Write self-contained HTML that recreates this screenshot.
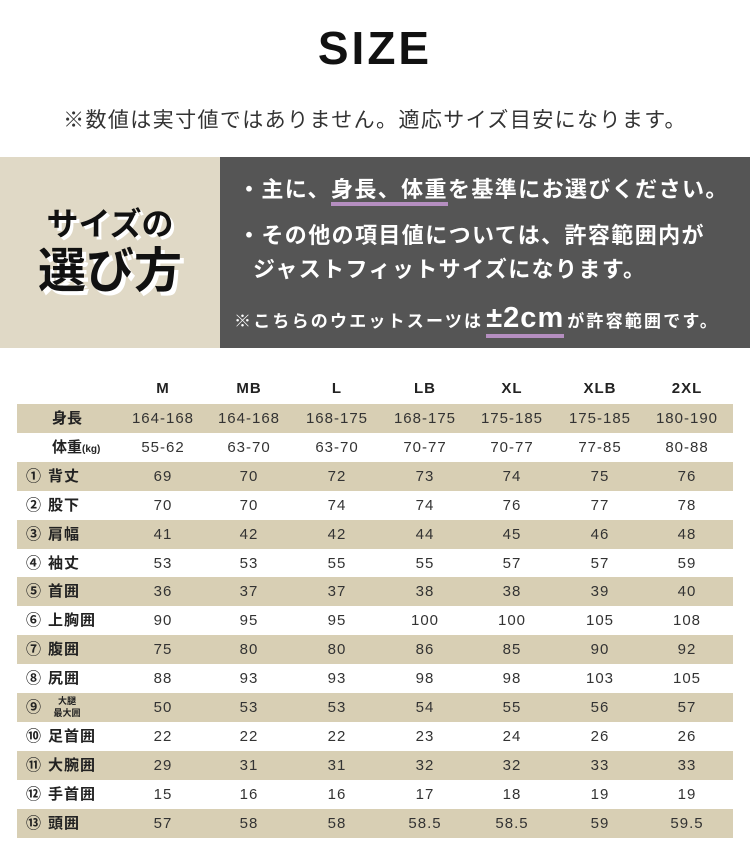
<!DOCTYPE html>
<html><head><meta charset="utf-8"><style>
body{margin:0;width:750px;height:868px;background:#fff;position:relative;overflow:hidden;font-family:"Liberation Sans","Noto Sans CJK JP",sans-serif;}
.a{position:absolute;white-space:nowrap;}
.row{position:absolute;left:17px;width:716px;height:29px;}
.sh{background:#d8cfb4;}
.c{position:absolute;width:90px;margin-left:-45px;text-align:center;font-size:15px;color:#333;letter-spacing:1px;line-height:29px;top:0;}
.lab{position:absolute;left:0;top:0;line-height:29px;font-size:15px;font-weight:bold;color:#222;}
.u{border-bottom:4px solid #b58ec0;padding-bottom:0px;}
</style></head><body>
<div class="a" style="left:0;width:750px;top:22px;text-align:center;font-size:46px;font-weight:bold;letter-spacing:3px;color:#111;line-height:52px;">SIZE</div>
<div class="a" style="left:0;width:750px;top:107px;text-align:center;font-size:21px;letter-spacing:1.4px;color:#333;line-height:28px;">※数値は実寸値ではありません。適応サイズ目安になります。</div>
<div class="a" style="left:0;top:157px;width:220px;height:191px;background:#e0d9c6;"></div>
<div class="a" style="left:220px;top:157px;width:530px;height:191px;background:#555;"></div>
<div class="a" style="left:0;width:220px;top:204px;text-align:center;font-size:32px;font-weight:bold;color:#111;text-shadow:3px 3px 0 #fff;line-height:40px;">サイズの</div>
<div class="a" style="left:0;width:220px;top:244px;text-align:center;font-size:48px;font-weight:bold;color:#111;text-shadow:4px 4px 0 #fff;line-height:56px;">選び方</div>
<div class="a" style="left:238px;top:175px;font-size:22px;letter-spacing:1.4px;font-weight:bold;color:#fff;line-height:30px;">・主に、<span class="u">身長、体重</span>を基準にお選びください。</div>
<div class="a" style="left:238px;top:221px;font-size:22px;letter-spacing:1.4px;font-weight:bold;color:#fff;line-height:30px;">・その他の項目値については、許容範囲内が</div>
<div class="a" style="left:238px;top:255px;font-size:22px;letter-spacing:1.4px;font-weight:bold;color:#fff;line-height:30px;">&nbsp;&nbsp;ジャストフィットサイズになります。</div>
<div class="a" style="left:234px;top:303px;font-size:17px;letter-spacing:2.2px;font-weight:bold;color:#fff;line-height:30px;">※こちらのウエットスーツは<span class="u" style="font-size:29px;margin:0 3px;letter-spacing:1px">±2cm</span>が許容範囲です。</div>
<div id="t"></div>
<script>
var cols=[163,249,337,425,512,600,687];
var hdr=["M","MB","L","LB","XL","XLB","2XL"];
var rows=[
["身長","","164-168","164-168","168-175","168-175","175-185","175-185","180-190"],
["体重","","55-62","63-70","63-70","70-77","70-77","77-85","80-88"],
["背丈","①",69,70,72,73,74,75,76],
["股下","②",70,70,74,74,76,77,78],
["肩幅","③",41,42,42,44,45,46,48],
["袖丈","④",53,53,55,55,57,57,59],
["首囲","⑤",36,37,37,38,38,39,40],
["上胸囲","⑥",90,95,95,100,100,105,108],
["腹囲","⑦",75,80,80,86,85,90,92],
["尻囲","⑧",88,93,93,98,98,103,105],
["大腿","⑨",50,53,53,54,55,56,57],
["足首囲","⑩",22,22,22,23,24,26,26],
["大腕囲","⑪",29,31,31,32,32,33,33],
["手首囲","⑫",15,16,16,17,18,19,19],
["頭囲","⑬",57,58,58,58.5,58.5,59,59.5]];
var h='<div class="row" style="top:374px">';
hdr.forEach(function(s,i){h+='<div class="c" style="left:'+(cols[i]-17)+'px;font-weight:bold;color:#222">'+s+'</div>';});
h+='</div>';
rows.forEach(function(r,k){
 var top=404+k*28.9;
 h+='<div class="row'+(k%2==0?' sh':'')+'" style="top:'+top+'px">';
 var lab;
 if(k<2) lab='<span style="margin-left:35px">'+r[0]+(k==1?'<span style="font-size:10px">(kg)</span>':'')+'</span>';
 else if(r[0]=="大腿") lab='<span style="margin-left:9px">'+r[1]+'</span><span style="position:absolute;left:36px;top:2px;font-size:9px;line-height:12px;text-align:center;width:28px">大腿<br>最大囲</span>';
 else lab='<span style="margin-left:9px">'+r[1]+'</span><span style="margin-left:7px;letter-spacing:1px">'+r[0]+'</span>';
 h+='<div class="lab">'+lab+'</div>';
 for(var i=0;i<7;i++) h+='<div class="c" style="left:'+(cols[i]-17)+'px">'+r[i+2]+'</div>';
 h+='</div>';
});
document.getElementById('t').innerHTML=h;
</script>
</body></html>
